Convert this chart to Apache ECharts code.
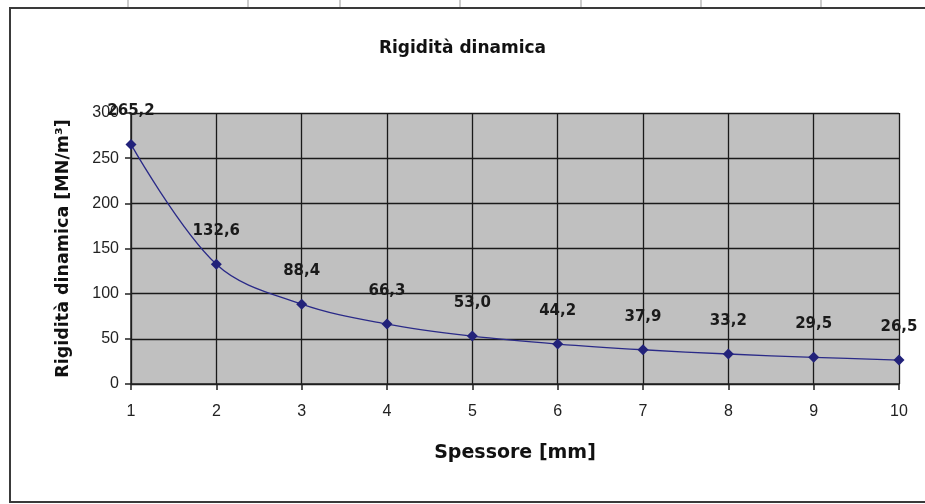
<!DOCTYPE html>
<html lang="en">
<head>
	<meta charset="UTF-8">
	<title>Rigidità dinamica</title>
	<script type="text/javascript" src="https://cdn.jsdelivr.net/npm/echarts@6/dist/echarts.min.js"></script>
	<style type="text/css">
	html, body{margin: 0; padding: 0; background: #fff;}
	#container{width: 925px; height: 504px;}
	</style>
</head>
<body>
	<div id="container"></div>
	<script type="text/javascript">
		// dati
		var spessore = ['1', '2', '3', '4', '5', '6', '7', '8', '9', '10'];
		var rigidita = [265.2, 132.6, 88.4, 66.3, 53.0, 44.2, 37.9, 33.2, 29.5, 26.5];
		// linee del foglio sopra il grafico
		var celle = [128, 248, 340, 460, 581, 701, 821];

		var font = 'Arial, "Liberation Sans", sans-serif';
		var boldFont = '"DejaVu Sans", Arial, sans-serif';
		var graphics = [{
			type: 'rect',
			shape: {x: 10, y: 8, width: 930, height: 494},
			style: {fill: 'none', stroke: '#3a3a3a', lineWidth: 2},
			silent: true
		}];
		for (var i = 0; i < celle.length; i++) {
			graphics.push({
				type: 'line',
				shape: {x1: celle[i], y1: 0, x2: celle[i], y2: 7},
				style: {stroke: '#999', lineWidth: 1},
				silent: true
			});
		}

		var myChart = echarts.init(document.getElementById('container'), null, {renderer: 'canvas'});
		var option = {
			animation: false,
			backgroundColor: '#fff',
			title: {
				text: 'Rigidità dinamica',
				left: 'center',
				top: 35,
				textStyle: {fontFamily: boldFont, fontSize: 17, fontWeight: 'bold', color: '#111'}
			},
			graphic: graphics,
			grid: {
				left: 131, right: 26, top: 113, bottom: 120,
				show: true,
				backgroundColor: '#c0c0c0',
				borderWidth: 0
			},
			xAxis: {
				type: 'category',
				data: spessore,
				boundaryGap: false,
				name: 'Spessore [mm]',
				nameLocation: 'middle',
				nameGap: 60,
				nameTextStyle: {fontFamily: boldFont, fontSize: 19, fontWeight: 'bold', color: '#111'},
				axisLine: {lineStyle: {color: '#222', width: 1.5}},
				axisTick: {show: true, length: 6, alignWithLabel: true, lineStyle: {color: '#222', width: 1.5}},
				axisLabel: {fontFamily: font, fontSize: 16, color: '#222', margin: 20},
				splitLine: {show: true, lineStyle: {color: '#1a1a1a', width: 1.3}}
			},
			yAxis: {
				type: 'value',
				min: 0, max: 300, interval: 50,
				name: 'Rigidità dinamica [MN/m³]',
				nameLocation: 'middle',
				nameGap: 59,
				nameTextStyle: {fontFamily: boldFont, fontSize: 17.5, fontWeight: 'bold', color: '#111'},
				axisLine: {show: true, lineStyle: {color: '#222', width: 1.5}},
				axisTick: {show: true, length: 6, lineStyle: {color: '#222', width: 1.5}},
				axisLabel: {fontFamily: font, fontSize: 16, color: '#222', margin: 12},
				splitLine: {show: true, lineStyle: {color: '#1a1a1a', width: 1.3}}
			},
			series: [{
				name: 'Rigidità dinamica',
				type: 'line',
				data: rigidita,
				smooth: 0.35,
				symbol: 'diamond',
				symbolSize: 11,
				itemStyle: {color: '#22227a'},
				lineStyle: {color: '#2a2a88', width: 1.3},
				label: {
					show: true,
					position: 'top',
					distance: 20,
					fontFamily: boldFont,
					fontSize: 15,
					fontWeight: 'bold',
					color: '#1a1a1a',
					formatter: function (p) {
						return p.value.toFixed(1).replace('.', ',');
					}
				}
			}]
		};
		myChart.setOption(option);
	</script>
</body>
</html>
